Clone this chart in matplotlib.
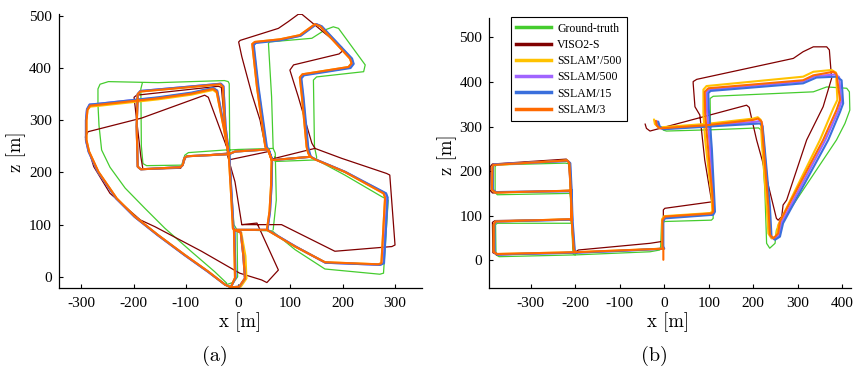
import numpy as np
import matplotlib
matplotlib.use("Agg")
import matplotlib.pyplot as plt
from matplotlib.lines import Line2D

nan = float("nan")
plt.rcParams['axes.unicode_minus'] = False

# ---------------- data : panel (a) ----------------
gt_a = [(-25,-16),(-22,-12),(-45,10),(-89,48),(-140,93),(-178,131),(-216,170),(-245,210),(-261,243),
        (-266,290),(-268,330),(-268,360),(-264,369),(-248,374),(-153,372),(-89,374),(-26,376),(-19,374),
        (-17,370),(-16,243),(-25,243),(-95,238),(-102,233),(-108,214),(-175,213),(-182,217),(-185,250),
        (-186,360),(-183,372),(nan,nan),
        (-16,243),(0,244),(67,246),(64,345),(58,447),(60,450),(141,457),(166,473),(182,479),(192,476),
        (243,406),(240,393),(150,383),(144,377),(146,249),(150,230),(150,224),(204,195),(274,154),
        (287,147),(278,7),(271,5),(166,15),(109,52),(65,88),(0,90),(-2,85),(-1,0),(-8,-10),(-25,-16),
        (nan,nan),(-16,243),(-13,170),(-8,100),(-1,88),
        (nan,nan),(67,246),(71,237),(73,147),(67,90),
        (nan,nan),(150,224),(71,221),(70,230)]

viso_a = [(7,100),(39,100),(83,100),(185,49),(294,58),(300,61),(290,195),(284,198),(198,227),(147,246),
          (141,256),(115,345),(99,396),(106,406),(193,427),(200,433),(198,440),(122,503),(115,503),(96,489),
          (77,476),(4,453),(1,450),(7,422),(26,351),(42,300),(52,249),(58,240),(-18,224),(-22,249),
          (-57,344),(-64,348),(-185,304),(-287,278),(-292,268),(-290,256),(-276,211),(-245,160),(-187,109),
          (-159,96),(-70,49),(3,7),(45,-6),(55,-11),(77,13),(36,103),(7,100),(-6,182),(-18,224),(-20,237),
          (-100,230),(-105,215),(-110,208),(-182,206),(-186,230),(-199,344),(-194,348),(-38,365),(-32,363),
          (-22,250),(nan,nan),(58,240),(66,226),(134,243),(147,246)]

sslam_star500_a = [(-14,-20),(-25,-15),(-57,10),(-102,42),(-153,80),(-197,115),(-232,150),(-267,201),(-285,240),
          (-290,262),(-290,300),(-288,320),(-283,326),(-263,328),(-217,333),(-153,340),(-89,349),(-48,358),
          (-41,353),(-28,288),(-19,240),(-18,235),(-98,231),(-103,227),(-106,214),(-111,210),(-186,206),
          (-192,211),(-194,288),(-192,350),(-187,355),(-98,363),(-34,369),(-29,364),(-25,288),(-19,240),
          (-18,235),(-13,150),(-10,93),(-8,90),(-6,-2),(-14,-20),(5,-19),(16,-3),(14,40),(6,85),(-8,90),
          (1,90),(55,90),(109,58),(166,28),(268,24),(274,26),(281,152),(278,160),(204,201),(147,225),(138,230),
          (134,237),(131,249),(122,345),(118,382),(123,388),(211,402),(217,409),(214,418),(157,480),(147,484),
          (118,463),(80,455),(32,450),(27,446),(36,364),(52,249),(58,242),(64,224),(63,176),(60,125),(55,90),
          (nan,nan),(138,230),(70,224),(64,224),(58,242),(55,244),(-6,240),(-18,235)]

sslam500_a = [(-14,-20),(-25,-15),(-58,10),(-103,42),(-154,80),(-198,115),(-233,150),(-268,201),(-286,240),
          (-291,262),(-291,300),(-289,321),(-284,330),(-263,332),(-217,337),(-153,343),(-89,352),(-48,361),
          (-40,356),(-27,288),(-18,240),(-17,235),(-98,231),(-103,227),(-106,214),(-111,210),(-186,206),
          (-192,211),(-194,288),(-192,350),(-187,356),(-98,364),(-33,370),(-28,365),(-24,288),(-18,240),
          (-17,235),(-12,150),(-9,93),(-7,90),(-5,-2),(-14,-20),(2,-19),(13,-3),(10,40),(5,85),(-7,90),
          (1,90),(56,90),(110,58),(167,27),(271,23),(278,26),(285,152),(282,160),(205,201),(148,225),(139,230),
          (136,237),(133,249),(124,345),(120,381),(125,387),(214,401),(220,408),(217,418),(159,480),(149,484),
          (119,462),(80,454),(33,449),(29,445),(38,364),(54,249),(59,242),(65,224),(64,176),(61,125),(56,90),
          (nan,nan),(139,230),(71,224),(65,224),(59,242),(56,244),(-6,240),(-17,235)]

sslam15_a = [(-14,-20),(-25,-15),(-58,10),(-103,42),(-154,80),(-198,115),(-233,150),(-268,201),(-286,240),
          (-291,262),(-291,300),(-289,321),(-284,330),(-263,332),(-217,337),(-153,344),(-89,353),(-48,362),
          (-40,357),(-27,288),(-18,240),(-17,235),(-98,231),(-103,227),(-106,214),(-111,210),(-186,206),
          (-192,211),(-194,288),(-192,350),(-187,356),(-98,364),(-33,370),(-28,365),(-24,288),(-18,240),
          (-17,235),(-12,150),(-9,93),(-7,90),(-5,-2),(-14,-20),(2,-19),(13,-3),(10,40),(5,85),(-7,90),
          (1,90),(56,90),(110,58),(167,27),(272,23),(279,26),(286,152),(283,160),(205,201),(148,225),(139,230),
          (137,237),(134,249),(125,345),(121,380),(126,386),(215,400),(221,408),(218,418),(160,480),(150,484),
          (120,462),(80,453),(34,448),(30,444),(39,364),(55,249),(59,242),(65,224),(64,176),(61,125),(56,90),
          (nan,nan),(139,230),(71,224),(65,224),(59,242),(56,244),(-6,240),(-17,235)]

sslam3_a = [(-14,-20),(-25,-15),(-57,10),(-102,42),(-153,80),(-197,115),(-232,150),(-267,201),(-285,240),
          (-290,262),(-290,300),(-288,320),(-283,328),(-263,330),(-217,335),(-153,342),(-89,351),(-48,360),
          (-41,355),(-28,288),(-19,240),(-18,235),(-98,231),(-103,227),(-106,214),(-111,210),(-186,206),
          (-192,211),(-194,288),(-192,350),(-187,355),(-98,363),(-34,369),(-29,364),(-25,288),(-19,240),
          (-18,235),(-13,150),(-10,93),(-8,90),(-6,-2),(-14,-20),(2,-19),(13,-3),(10,40),(5,85),(-8,90),
          (1,90),(55,90),(109,58),(166,28),(268,24),(274,26),(281,152),(278,160),(204,201),(147,225),(138,230),
          (134,237),(131,249),(122,345),(118,382),(123,388),(211,402),(217,409),(214,418),(157,480),(147,484),
          (118,463),(80,455),(32,450),(27,446),(36,364),(52,249),(58,242),(64,224),(63,176),(60,125),(55,90),
          (nan,nan),(138,230),(70,224),(64,224),(58,242),(55,244),(-6,240),(-18,235)]

# ---------------- data : panel (b) ----------------
gt_b = [(-6,300),(-2,292),(5,290),(110,293),(212,297),(218,292),(220,270),(222,225),(226,158),(230,38),
        (237,27),(249,38),(252,68),(387,270),(406,307),(417,337),(416,378),(410,386),(365,389),(335,378),
        (110,368),(103,363),(104,300),(107,200),(110,94),(106,90),(1.5,87),(-6,83),(-8,31),(-10,23),
        (-32,19),(-200,12),(-371,8),(-378,12),(-379,80),(-375,83),(-214,83),(-209,83),(-211,150),(-214,150),
        (-375,147),(-380,152),(-380,210),(-377,214),(-222,218),(-212,216),(-210,150),(-208,83),(-205,15),
        (-200,12)]

viso_b = [(-43,306),(-40,296),(-32,290),(185,348),(191,343),(193,333),(207.5,270),(220,225),(252,94),
          (256,90),(264,98),(267,124),(275,135),(305,225),(320,270),(357,344.5),(376,408),(371,472),(365,479),
          (335,479),(312,468),(290,453),(73,406),(65,401),(65,397),(69,344.5),(80,326),(91,225),(106,135),
          (110,131.5),(1.5,116.6),(-2,113),(-2,46),(-6,42),(-32,38),(-193,23),(-200,18),(-376,12),(-385,17),
          (-386,85),(-380,89),(-212,92),(-208,90),(-211,155),(-213,157),(-386,151),(-392,158),(-391,210),
          (-386,216),(-220,227),(-215,222),(-211,157),(-208,90),(-204,25),(-200,18)]

sslam_star500_b = [(-23,316),(-21,306),(-13,298),(95,306),(200,318),(210,321),(217,315),(219,270),(230,124),
          (234,60),(241,49),(251,53),(256,79),(350,270),(380,341),(389,360),(386,421),(376,427),(335,423),
          (312,412),(95,391),(88,383),(88,330),(92,270),(101,190),(106,150),(108,110),(104,106),(0,99),
          (-5,92),(-5,31),(-3,26),(-100,22),(-199,18),(-376,14),(-383,19),(-383,80),(-379,87),(-214,92),
          (-208,90),(-210,158),(-214,156),(-379,152),(-387,158),(-386,210),(-383,214),(-218,224),(-213,218),
          (-210,158),(-208,90),(-203,23),(-199,18)]

sslam500_b = [(-16,312),(-13,301),(-6,295),(97,302),(207,311),(216,313),(220,306),(223,270),(236,120),
          (239,55),(247,47),(258,56),(264,85),(362,270),(391,335),(398,356),(393,411),(384,417),(338,413),
          (312,401),(101,383),(95,377),(96,335),(100,285),(105,225),(112,109),(108,103),(1.5,96),(-3,88),
          (-3,31),(-1,26),(-100,21),(-199,17),(-375,13),(-382,18),(-382,80),(-378,87),(-213,91),(-207,89),
          (-209,158),(-213,155),(-378,153),(-386,158),(-385,210),(-382,215),(-217,223),(-212,218),(-209,158),
          (-207,90),(-202,23),(-198,17)]

sslam15_b = [(-13.5,311),(-10,300),(-2,294),(100,300),(215,307),(221,301),(224,270),(237.5,120),(241,53),
          (249,46),(260,53),(267,83),(368.5,270),(395,333),(402,352),(398.5,404),(387,412),(342,410),(312,397),
          (104,380),(99,375),(100,340),(104,290),(107,250),(114,109),(110,102),(1.5,94),(-2,87),(-2,31),
          (0,26),(-100,21),(-199,17),(-374,13),(-381,18),(-382,80),(-378,87),(-213,91),(-207,89),(-208,158),
          (-212,155),(-378,153),(-385,158),(-385,210),(-382,215),(-217,223),(-211,218),(-208,158),(-206,90),
          (-201,23),(-197,17)]

sslam3_b = [(-18.7,313),(-17,303),(-10,296),(95,303),(200,315),(211,318),(219,311),(222,270),(234,120),
          (237.5,57),(245,49),(256,60),(260,87),(357,270),(387,337),(395,360),(387,418),(380,423),(335,415),
          (312,404),(99,386),(91,378),(92,330),(96,280),(103,200),(108,150),(110,109),(106,105),(1.5,98),
          (-4,90),(-4,31),(-2,26),(-100,22),(-199,18),(-376,14),(-383,19),(-383,80),(-379,87),(-214,92),
          (-208,90),(-210,158),(-214,156),(-379,152),(-387,158),(-386,210),(-383,214),(-218,224),(-213,218),
          (-210,158),(-208,90),(-203,23),(-199,18),(nan,nan),(-2,26),(-2,1)]

legend_labels = ["Ground-truth", "VISO2-S", "SSLAM\u2019/500", "SSLAM/500", "SSLAM/15", "SSLAM/3"]
colors = ["#45cc2e", "#800000", "#ffc200", "#a064ff", "#3a6fdc", "#ff6a00"]
widths = [0.9, 0.9, 1.5, 1.5, 1.5, 1.5]

panel_a = [gt_a, viso_a, sslam_star500_a, sslam500_a, sslam15_a, sslam3_a]
panel_b = [gt_b, viso_b, sslam_star500_b, sslam500_b, sslam15_b, sslam3_b]

a_xticks = [-300, -200, -100, 0, 100, 200, 300]
b_xticks = [-300, -200, -100, 0, 100, 200, 300, 400]
yticks = [0, 100, 200, 300, 400, 500]

# ---------------- figure ----------------
fig = plt.figure(figsize=(8.55, 3.67), dpi=100)
ax1 = fig.add_axes([0.0687, 0.2144, 0.4245, 0.7467])
ax2 = fig.add_axes([0.5723, 0.2144, 0.4227, 0.7357])

tick_font = "Liberation Serif"
label_font = "cmr10"

for ax, data, xt, xl, yl in [(ax1, panel_a, a_xticks, (-343, 351), (-22, 503)),
                             (ax2, panel_b, b_xticks, (-393, 419), (-63, 543))]:
    for d, c, w in zip(data, colors, widths):
        arr = np.array(d, dtype=float)
        ax.plot(arr[:, 0], arr[:, 1], color=c, lw=w, solid_joinstyle='round', solid_capstyle='round')
    ax.set_xlim(*xl)
    ax.set_ylim(*yl)
    ax.set_xticks(xt)
    ax.set_yticks(yticks)
    for s in ["top", "right"]:
        ax.spines[s].set_visible(False)
    for s in ["left", "bottom"]:
        ax.spines[s].set_linewidth(0.9)
    ax.tick_params(direction='in', length=3, width=0.8, labelsize=11)
    ax.tick_params(axis='x', pad=6)
    ax.tick_params(axis='y', pad=5)
    for lab in ax.get_xticklabels() + ax.get_yticklabels():
        lab.set_fontfamily(tick_font)

fig.text(0.2807, 0.1234, "x [m]", family=label_font, fontsize=13.5, ha='center', va='center')
fig.text(0.0187, 0.586, "z [m]", family=label_font, fontsize=13.5, ha='center', va='center', rotation=90)
fig.text(0.781, 0.1234, "x [m]", family=label_font, fontsize=13.5, ha='center', va='center')
fig.text(0.5225, 0.5777, "z [m]", family=label_font, fontsize=13.5, ha='center', va='center', rotation=90)
fig.text(0.2515, 0.03, "(a)", family=label_font, fontsize=14.5, ha='center', va='center')
fig.text(0.766, 0.03, "(b)", family=label_font, fontsize=14.5, ha='center', va='center')

handles = [Line2D([0], [0], color=c, lw=2.5) for c in colors]
leg = ax2.legend(handles, legend_labels, loc='upper left', bbox_to_anchor=(0.059, 1.004),
                 borderaxespad=0, frameon=True, fancybox=False, framealpha=1, edgecolor='black',
                 prop={'family': tick_font, 'size': 8.5}, handlelength=3.0, handletextpad=0.5,
                 labelspacing=0.36, borderpad=0.45)
leg.get_frame().set_linewidth(0.8)

fig.savefig("out.png", dpi=100)
